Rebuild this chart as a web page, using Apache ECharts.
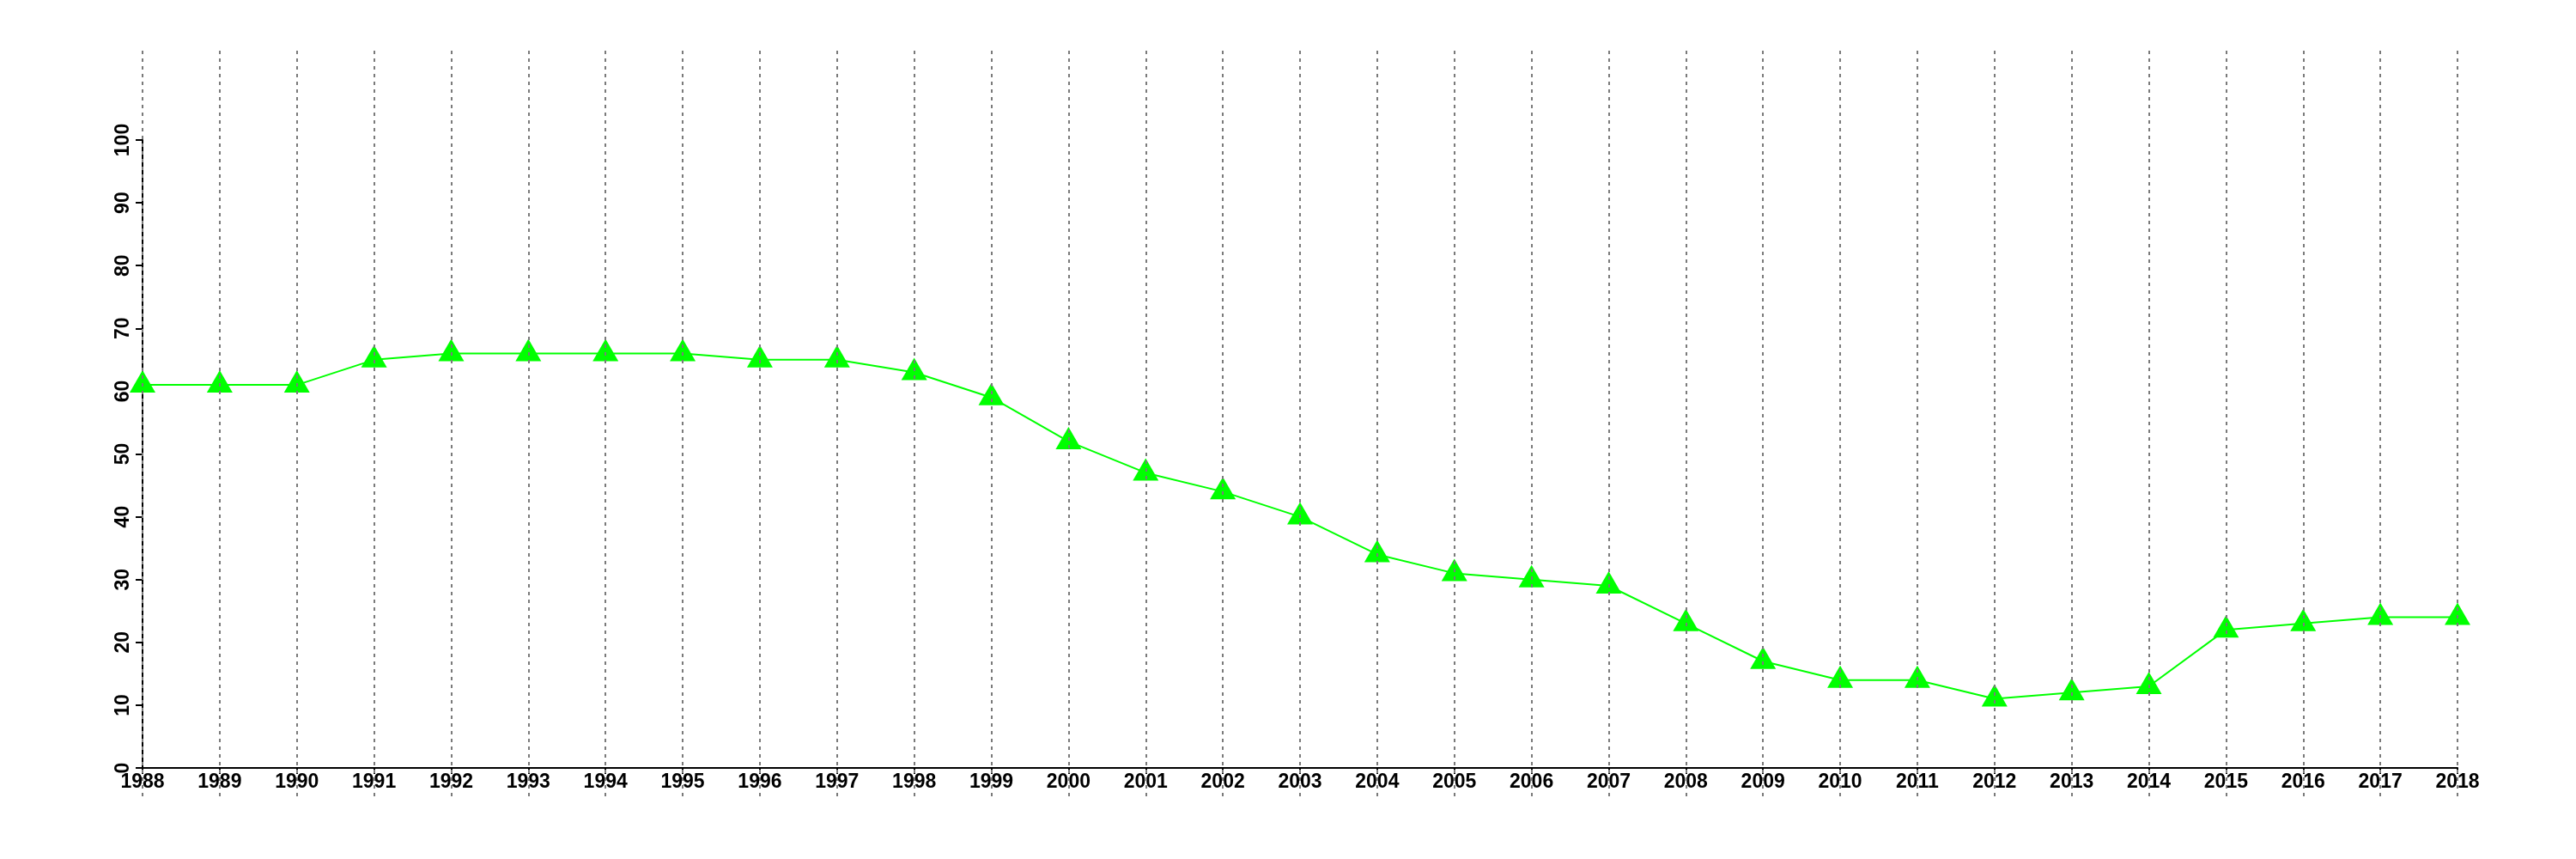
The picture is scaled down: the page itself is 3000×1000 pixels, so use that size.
<!DOCTYPE html>
<html>
<head>
<meta charset="utf-8">
<script src="https://cdn.jsdelivr.net/npm/echarts@6/dist/echarts.min.js"></script>
<style>html,body{margin:0;padding:0;background:#fff;}#c{width:3000px;height:1000px;}</style>
</head>
<body>
<div id="c"></div>
<script>
const years = [1988,1989,1990,1991,1992,1993,1994,1995,1996,1997,1998,1999,2000,2001,2002,2003,2004,2005,2006,2007,2008,2009,2010,2011,2012,2013,2014,2015,2016,2017,2018];
const values = [61,61,61,65,66,66,66,66,65,65,63,59,52,47,44,40,34,31,30,29,23,17,14,14,11,12,13,22,23,24,24];
const yTicks = [0,10,20,30,40,50,60,70,80,90,100];

const font = {fontFamily: 'Liberation Sans, Arial, sans-serif', fontWeight: 'bold', fontSize: 23, color: '#000'};
const chart = echarts.init(document.getElementById('c'), null, {renderer: 'canvas'});
chart.setOption({
  animation: false,
  backgroundColor: '#fff',
  grid: [
    {left: 166, right: 138, top: 163, bottom: 106, containLabel: false},
    {left: 166, right: 138, top: 59, bottom: 73, containLabel: false}
  ],
  xAxis: [
    {
      type: 'category', gridIndex: 0, data: years.map(String), boundaryGap: false,
      axisLine: {show: true, lineStyle: {color: '#000', width: 2}},
      axisTick: {show: true, length: 7, lineStyle: {color: '#000', width: 2}, alignWithLabel: true},
      axisLabel: Object.assign({margin: 5, interval: 0}, font),
      splitLine: {show: false}
    },
    {
      type: 'value', gridIndex: 1, min: years[0], max: years[years.length - 1], interval: 1, z: 10,
      axisLine: {show: false}, axisTick: {show: false}, axisLabel: {show: false},
      splitLine: {show: true, lineStyle: {color: '#7a7a7a', width: 2, type: [4, 5]}}
    }
  ],
  yAxis: [
    {
      type: 'value', gridIndex: 0, min: yTicks[0], max: yTicks[yTicks.length - 1], interval: 10,
      axisLine: {show: true, lineStyle: {color: '#000', width: 2}},
      axisTick: {show: true, length: 8, lineStyle: {color: '#000', width: 2}},
      axisLabel: Object.assign({margin: 11, rotate: 90}, font),
      splitLine: {show: false}
    },
    {
      type: 'value', gridIndex: 1, min: 0, max: 1, show: false
    }
  ],
  series: [{
    type: 'line', xAxisIndex: 0, yAxisIndex: 0, data: values,
    lineStyle: {color: '#00ff00', width: 2},
    itemStyle: {color: '#00ff00'},
    symbol: 'triangle', symbolSize: [30, 26], symbolOffset: [0, -4],
    showSymbol: true, z: 3
  }]
});
</script>
</body>
</html>
